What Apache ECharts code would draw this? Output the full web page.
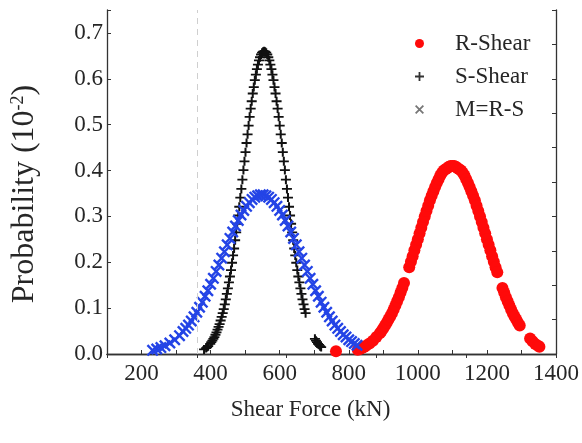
<!DOCTYPE html>
<html>
<head>
<meta charset="utf-8">
<script src="https://cdn.jsdelivr.net/npm/echarts@6/dist/echarts.min.js"></script>
<style>
  html, body { margin: 0; padding: 0; background: #fff; }
  #chart { width: 582px; height: 443px; }
</style>
</head>
<body>
<div id="chart"></div>
<script>
// Resistance shear distribution (kN, probability in 10^-2)
const rShearX = [763, 826, 832, 838, 844, 850, 860, 870, 880, 890, 895, 900, 905, 910, 915, 920, 925, 930, 935, 940, 945, 950, 955, 960,
  975, 980, 985, 990, 995, 1000, 1005, 1010, 1015, 1020, 1025, 1030, 1035, 1040, 1045, 1050, 1055, 1060, 1065, 1070, 1075, 1080,
  1085, 1090, 1095, 1100, 1105, 1110, 1115, 1120, 1125, 1130, 1135, 1140, 1145, 1150, 1155, 1160, 1165, 1170, 1175, 1180, 1185,
  1190, 1195, 1200, 1205, 1210, 1215, 1220, 1225, 1230,
  1245, 1250, 1255, 1260, 1265, 1270, 1275, 1280, 1285, 1290, 1295,
  1325, 1332, 1340, 1348, 1352];
const rShearY = [0.006, 0.009, 0.011, 0.013, 0.015, 0.018, 0.023, 0.029, 0.037, 0.045, 0.050, 0.056, 0.062, 0.068, 0.075, 0.082, 0.089, 0.097, 0.106, 0.115, 0.124, 0.134, 0.144, 0.155,
  0.189, 0.201, 0.213, 0.226, 0.238, 0.250, 0.263, 0.275, 0.288, 0.300, 0.312, 0.323, 0.335, 0.345, 0.355, 0.364, 0.373, 0.381, 0.389, 0.395, 0.400, 0.403,
  0.405, 0.408, 0.410, 0.410, 0.410, 0.408, 0.405, 0.403, 0.400, 0.395, 0.389, 0.381, 0.373, 0.364, 0.355, 0.345, 0.335, 0.323, 0.312, 0.300, 0.288,
  0.275, 0.263, 0.250, 0.238, 0.226, 0.213, 0.201, 0.189, 0.178,
  0.144, 0.134, 0.124, 0.115, 0.106, 0.097, 0.089, 0.082, 0.075, 0.068, 0.062,
  0.034, 0.028, 0.022, 0.018, 0.016];

// Load-effect shear distribution
const sShearX = [381, 387, 390, 393, 399, 402, 405, 408, 411, 414, 417, 420, 423, 426, 429, 432, 435, 438, 441, 444, 447, 450, 453, 456, 459,
  462, 465, 468, 471, 474, 477, 480, 483, 486, 489, 492, 495, 498, 501, 504, 507, 510, 513, 516, 519, 522, 525, 528, 531, 534, 537, 540,
  543, 546, 549, 552, 555, 558, 561, 564, 567, 570, 573, 576, 579, 582, 585, 588, 591, 594, 597, 600, 603, 606, 609, 612, 615, 618, 621,
  624, 627, 630, 633, 636, 639, 642, 645, 648, 651, 654, 657, 660, 663, 666, 669, 672, 675,
  702, 705, 708, 711, 714, 717, 720];
const sShearY = [0.010, 0.013, 0.015, 0.017, 0.022, 0.026, 0.029, 0.033, 0.037, 0.042, 0.047, 0.053, 0.059, 0.065, 0.073, 0.081, 0.089, 0.098, 0.108, 0.119, 0.131, 0.143, 0.156, 0.169, 0.183,
  0.199, 0.215, 0.230, 0.248, 0.265, 0.284, 0.302, 0.321, 0.341, 0.360, 0.380, 0.401, 0.420, 0.440, 0.460, 0.479, 0.498, 0.517, 0.535, 0.551, 0.568, 0.582, 0.597, 0.609, 0.621, 0.631, 0.640,
  0.647, 0.653, 0.657, 0.659, 0.660, 0.659, 0.657, 0.653, 0.647, 0.640, 0.631, 0.621, 0.609, 0.597, 0.582, 0.568, 0.551, 0.535, 0.517, 0.498, 0.479, 0.460, 0.440, 0.420, 0.401, 0.380, 0.360,
  0.341, 0.321, 0.302, 0.284, 0.265, 0.248, 0.230, 0.215, 0.199, 0.183, 0.169, 0.156, 0.143, 0.131, 0.119, 0.108, 0.098, 0.089,
  0.033, 0.029, 0.026, 0.022, 0.020, 0.017, 0.015];

// Safety margin M = R - S
const marginX = [232, 244, 256, 268, 282, 296, 310, 320, 328, 336, 344, 352, 360, 368, 376, 384, 392, 400, 408, 416, 424, 432, 440, 448,
  456, 464, 472, 480, 488, 496, 504, 512, 520, 528, 536, 544, 552, 560, 568, 576, 584, 592, 600, 608, 616, 624, 632, 640, 648, 656,
  664, 672, 680, 688, 696, 704, 712, 720, 728, 736, 744, 752, 760, 768, 776, 784, 792, 800, 808, 816, 824];
const marginY = [0.008, 0.011, 0.014, 0.018, 0.024, 0.031, 0.040, 0.049, 0.056, 0.063, 0.072, 0.081, 0.091, 0.102, 0.113, 0.126, 0.138, 0.152, 0.165, 0.180, 0.194, 0.209, 0.223, 0.238,
  0.252, 0.266, 0.279, 0.291, 0.303, 0.313, 0.322, 0.330, 0.337, 0.342, 0.345, 0.347, 0.347, 0.345, 0.342, 0.337, 0.330, 0.322, 0.313, 0.303, 0.291, 0.279, 0.266, 0.252, 0.238, 0.223,
  0.209, 0.194, 0.180, 0.165, 0.152, 0.138, 0.126, 0.113, 0.102, 0.091, 0.081, 0.072, 0.063, 0.056, 0.049, 0.042, 0.037, 0.031, 0.027, 0.023, 0.019];

const xTickValues = [200, 400, 600, 800, 1000, 1200, 1400];
const yTickValues = [0.0, 0.1, 0.2, 0.3, 0.4, 0.5, 0.6, 0.7];

const pairs = (xs, ys) => xs.map((x, i) => [x, ys[i]]);

const FONT = 'Liberation Serif';
const INK = '#262626';
const plusPath = 'path://M0,4.0H10V6.0H0Z M4.0,0H6.0V10H4.0Z';
const crossPath = 'path://M1.4,0L10,8.6L8.6,10L0,1.4Z M8.6,0L10,1.4L1.4,10L0,8.6Z';

const chart = echarts.init(document.getElementById('chart'), null, { renderer: 'canvas' });

const axisLine = { show: true, lineStyle: { color: '#333', width: 1.3 } };
const innerTick = { show: true, inside: true, length: 4, lineStyle: { color: '#333' } };

chart.setOption({
  animation: false,
  backgroundColor: '#fff',
  grid: { left: 107, right: 26, top: 10, bottom: 89 },
  legend: {
    orient: 'vertical',
    left: 410,
    top: 27,
    itemWidth: 9,
    itemHeight: 9,
    itemGap: 10,
    textStyle: { fontFamily: FONT, fontSize: 23, color: INK, padding: [0, 0, 0, 26] },
    data: [
      { name: 'R-Shear', icon: 'circle' },
      { name: 'S-Shear', icon: plusPath, itemStyle: { color: '#333' } },
      { name: 'M=R-S', icon: crossPath, itemStyle: { color: '#777' } }
    ]
  },
  xAxis: [
    {
      type: 'value',
      min: 100,
      max: 1400,
      interval: 100,
      name: 'Shear Force (kN)',
      nameLocation: 'middle',
      nameGap: 44,
      nameTextStyle: { fontFamily: FONT, fontSize: 23, color: INK, padding: [0, 42, 0, 0] },
      axisLine: axisLine,
      axisTick: innerTick,
      axisLabel: {
        fontFamily: FONT, fontSize: 23, color: INK, margin: 8,
        formatter: v => (xTickValues.indexOf(v) >= 0 ? String(v) : '')
      },
      splitLine: { show: false }
    },
    {
      type: 'value',
      position: 'top',
      min: 0,
      max: 5,
      interval: 1,
      axisLine: axisLine,
      axisTick: innerTick,
      axisLabel: { show: false },
      splitLine: { show: false }
    }
  ],
  yAxis: [
    {
      type: 'value',
      min: 0,
      max: 0.75,
      interval: 0.1,
      name: 'Probability (10{s|-2})',
      nameLocation: 'middle',
      nameRotate: 90,
      nameGap: 66,
      nameTextStyle: {
        fontFamily: FONT, fontSize: 32, color: INK, padding: [0, 24, 0, 0],
        rich: { s: { fontFamily: FONT, fontSize: 18, color: INK, padding: [0, 0, 14, 0] } }
      },
      axisLine: axisLine,
      axisTick: innerTick,
      axisLabel: {
        fontFamily: FONT, fontSize: 23, color: INK, margin: 4,
        formatter: v => {
          const hit = yTickValues.find(t => Math.abs(t - v) < 1e-6);
          return hit === undefined ? '' : hit.toFixed(1);
        }
      },
      splitLine: { show: false }
    },
    {
      type: 'value',
      position: 'right',
      min: 0,
      max: 10,
      interval: 1,
      axisLine: axisLine,
      axisTick: innerTick,
      axisLabel: { show: false },
      splitLine: { show: false }
    }
  ],
  series: [
    {
      name: 'guide',
      type: 'line',
      data: [],
      z: 1,
      markLine: {
        silent: true,
        symbol: ['none', 'none'],
        label: { show: false },
        lineStyle: { color: '#cfcfcf', type: [6, 5], width: 1 },
        data: [{ xAxis: 360 }]
      }
    },
    {
      name: 'R-Shear',
      type: 'scatter',
      symbol: 'circle',
      symbolSize: 12,
      itemStyle: { color: '#ff0a0a', opacity: 1 },
      data: pairs(rShearX, rShearY),
      z: 3
    },
    {
      name: 'S-Shear',
      type: 'scatter',
      symbol: plusPath,
      symbolSize: [10, 9],
      itemStyle: { color: '#111', opacity: 1 },
      data: pairs(sShearX, sShearY),
      z: 3
    },
    {
      name: 'M=R-S',
      type: 'scatter',
      symbol: crossPath,
      symbolSize: 12,
      itemStyle: { color: '#2444e6', opacity: 1 },
      data: pairs(marginX, marginY),
      z: 3
    }
  ]
});
</script>
</body>
</html>
